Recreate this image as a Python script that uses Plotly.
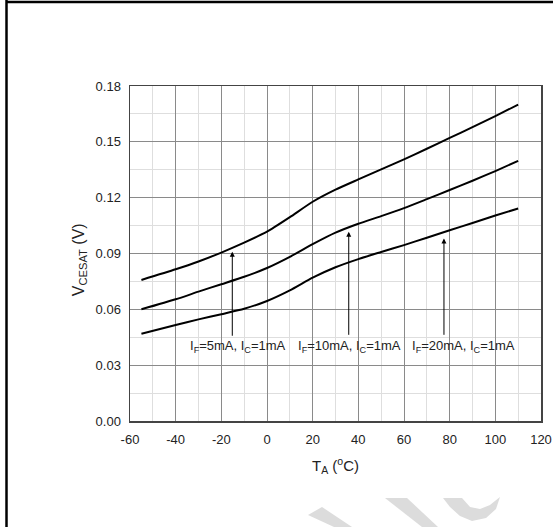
import plotly.graph_objects as go

# ---- data ----
temp_c = [-55, -40, -30, -20, -10, 0, 10, 20, 30, 40, 50, 60, 70, 80, 90, 100, 110]
vce_if5 = [0.0758, 0.0815, 0.0857, 0.0905, 0.0958, 0.1017, 0.1095, 0.1178, 0.1243, 0.1298,
           0.1352, 0.1406, 0.1463, 0.1521, 0.1579, 0.1638, 0.1700]
vce_if10 = [0.0600, 0.0654, 0.0695, 0.0735, 0.0775, 0.0822, 0.0882, 0.0950, 0.1012, 0.1060,
            0.1101, 0.1144, 0.1192, 0.1241, 0.1291, 0.1343, 0.1398]
vce_if20 = [0.0469, 0.0516, 0.0546, 0.0574, 0.0603, 0.0645, 0.0702, 0.0770, 0.0826, 0.0870,
            0.0908, 0.0945, 0.0985, 0.1025, 0.1064, 0.1104, 0.1142]

series_names = ["I<sub>F</sub>=5mA, I<sub>C</sub>=1mA",
                "I<sub>F</sub>=10mA, I<sub>C</sub>=1mA",
                "I<sub>F</sub>=20mA, I<sub>C</sub>=1mA"]
arrow_x = [-15.2, 35.8, 77.5]
arrow_head_y = [0.0910, 0.1017, 0.0981]
arrow_tail_y = [0.0450, 0.0455, 0.0455]
label_x = [-12.5, 36, 86]
label_y = [0.0402, 0.0402, 0.0402]

x_ticks = [-60, -40, -20, 0, 20, 40, 60, 80, 100, 120]
y_ticks = [0.00, 0.03, 0.06, 0.09, 0.12, 0.15, 0.18]

W, H = 553, 527
L, R, T, B = 130, 12, 86, 106
FONT = "Liberation Sans, Arial"
TXT = "#222"

fig = go.Figure()
for ys, nm in zip([vce_if5, vce_if10, vce_if20], series_names):
    fig.add_trace(go.Scatter(x=temp_c, y=ys, mode="lines", name=nm,
                             line=dict(color="black", width=2, shape="spline", smoothing=0.6),
                             showlegend=False, hoverinfo="skip"))

anns = []
for ax_, hy, ty in zip(arrow_x, arrow_head_y, arrow_tail_y):
    anns.append(dict(x=ax_, y=hy, ax=ax_, ay=ty, xref="x", yref="y", axref="x", ayref="y",
                     text="", showarrow=True, arrowhead=2, arrowsize=1.0, arrowwidth=1,
                     arrowcolor="black", standoff=0))
for lx, ly, nm in zip(label_x, label_y, series_names):
    anns.append(dict(x=lx, y=ly, xref="x", yref="y", text=nm, showarrow=False,
                     font=dict(family=FONT, size=13, color=TXT),
                     xanchor="center", yanchor="middle"))

# axis titles
anns.append(dict(x=0.5, y=-0.134, xref="paper", yref="paper",
                 text="T<sub>A</sub> (<sup>o</sup>C)", showarrow=False,
                 font=dict(family=FONT, size=15, color=TXT),
                 xanchor="center", yanchor="middle"))
anns.append(dict(x=-0.124, y=0.48, xref="paper", yref="paper",
                 text="V<sub>CESAT</sub> (V)", showarrow=False, textangle=-90,
                 font=dict(family=FONT, size=16, color=TXT),
                 xanchor="center", yanchor="middle"))

pw, ph = W - L - R, H - T - B
def px(x):
    return (x - L) / pw
def py(y):
    return (H - B - y) / ph

shapes = [
    # image frame (left and top)
    dict(type="line", xref="paper", yref="paper", x0=px(6.5), x1=px(6.5), y0=py(0), y1=py(527),
         line=dict(color="black", width=2.5)),
    dict(type="line", xref="paper", yref="paper", x0=px(6), x1=px(553), y0=py(2), y1=py(2),
         line=dict(color="black", width=2.5)),
]
# faint watermark fragments at the bottom
def poly(pts):
    return "M " + " L ".join(f"{px(a):.4f},{py(b):.4f}" for a, b in pts) + " Z"
wm = "#dcdcdc"
shapes.append(dict(type="path", xref="paper", yref="paper", line=dict(width=0), fillcolor=wm,
                   path=poly([(308, 515), (322, 507), (352, 527), (334, 527)])))
shapes.append(dict(type="path", xref="paper", yref="paper", line=dict(width=0), fillcolor=wm,
                   path=poly([(385, 498), (407, 498), (438, 527), (422, 527)])))
shapes.append(dict(type="path", xref="paper", yref="paper", line=dict(width=0), fillcolor=wm,
                   path=poly([(443, 498), (462, 498), (470, 507), (480, 509), (490, 505), (500, 497),
                              (496, 509), (486, 518), (472, 521), (460, 516), (450, 507)])))

fig.update_layout(
    width=W, height=H,
    margin=dict(l=L, r=R, t=T, b=B, autoexpand=False),
    paper_bgcolor="white", plot_bgcolor="white",
    annotations=anns, shapes=shapes,
    font=dict(family=FONT, size=13, color=TXT),
)
fig.update_xaxes(range=[-60, 120], tickvals=x_ticks, ticktext=[str(v) for v in x_ticks],
                 showgrid=True, gridcolor="#8a8a8a", gridwidth=1,
                 minor=dict(dtick=10, showgrid=True, gridcolor="#dedede", gridwidth=1),
                 showline=True, linecolor="#444", linewidth=1.5, mirror=True,
                 ticks="", zeroline=False, ticklabelstandoff=6,
                 tickfont=dict(size=13, color=TXT))
fig.update_yaxes(range=[0, 0.18], tickvals=y_ticks, ticktext=[f"{v:.2f}" for v in y_ticks],
                 showgrid=True, gridcolor="#8a8a8a", gridwidth=1,
                 minor=dict(dtick=0.015, showgrid=True, gridcolor="#dedede", gridwidth=1),
                 showline=True, linecolor="#444", linewidth=1.5, mirror=True,
                 ticks="", zeroline=False, ticklabelstandoff=5,
                 tickfont=dict(size=13, color=TXT))

fig.write_html("out.html", config={"displayModeBar": False, "staticPlot": True},
               post_script="document.body.style.margin='0';document.body.style.overflow='hidden';")
